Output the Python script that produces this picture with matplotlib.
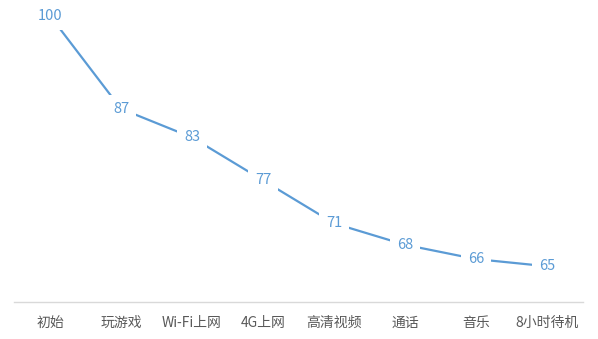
import matplotlib

matplotlib.use("Agg")
import matplotlib.pyplot as plt

plt.rcParams["font.family"] = ["Noto Sans CJK SC", "DejaVu Sans"]

categories = ["初始", "玩游戏", "Wi-Fi上网", "4G上网", "高清视频", "通话", "音乐", "8小时待机"]
values = [100, 87, 83, 77, 71, 68, 66, 65]

blue = "#5b9bd5"

fig = plt.figure(figsize=(5.98, 3.39), dpi=100)
ax = fig.add_axes([0.0242, 0.109, 0.95, 0.891])

x = list(range(len(categories)))
ax.plot(x, values, color=blue, linewidth=1.6, zorder=2)
for xi, v in zip(x, values):
    ax.text(xi, v, str(v), ha="center", va="center", color=blue, fontsize=10.5,
            zorder=3,
            bbox=dict(boxstyle="square,pad=0.5", fc="white", ec="none"))

ax.set_xlim(-0.5, len(categories) - 0.5)
ax.set_ylim(60, 102.2)
ax.set_xticks(x)
ax.set_xticklabels(categories, color="#595959", fontsize=10)
ax.tick_params(axis="x", length=0, pad=10)
ax.set_yticks([])
for s in ["top", "right", "left"]:
    ax.spines[s].set_visible(False)
ax.spines["bottom"].set_color("#d9d9d9")
ax.spines["bottom"].set_linewidth(1)

fig.savefig("out.png", dpi=100)
plt.close(fig)
